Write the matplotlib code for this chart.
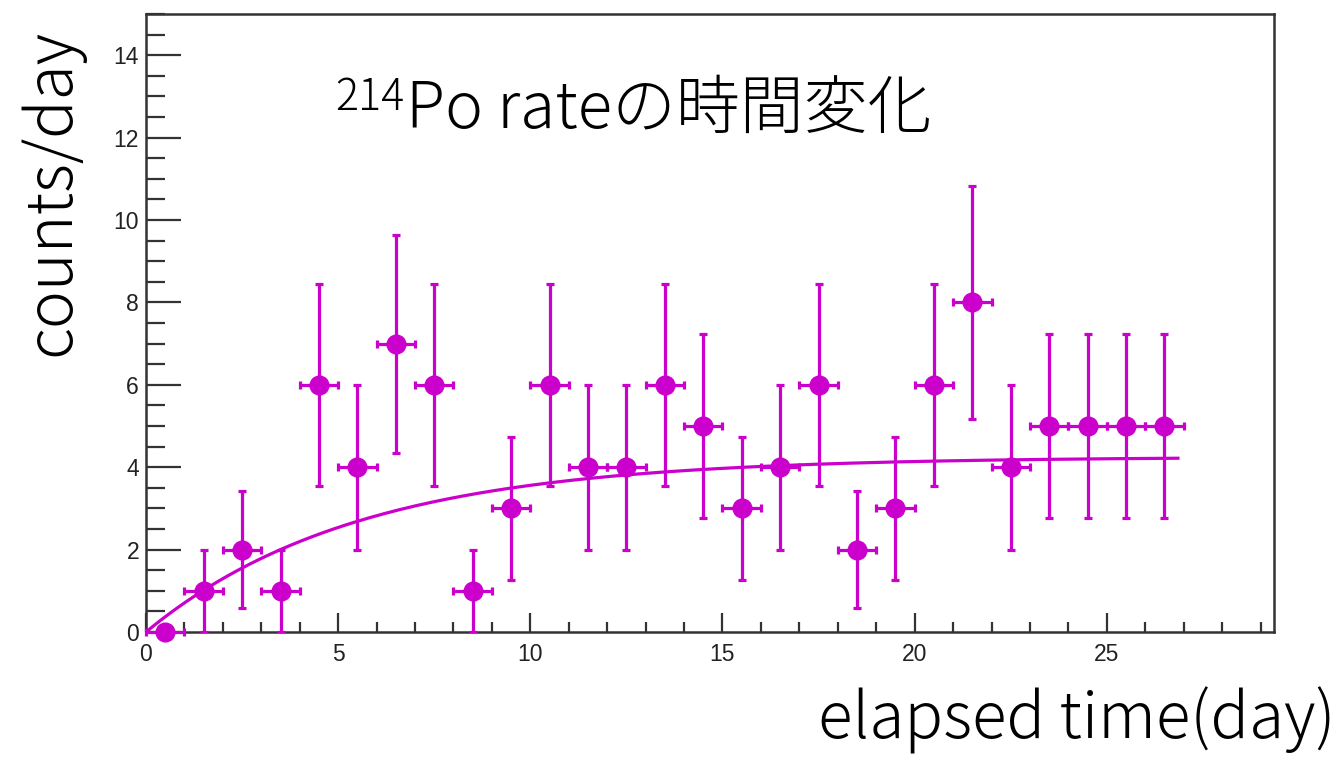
import numpy as np
import matplotlib.pyplot as plt
from matplotlib.ticker import MultipleLocator

plt.rcParams['font.family'] = ['Noto Sans CJK JP', 'DejaVu Sans']

# binned Po-214 counts per day
day = [0.5, 1.5, 2.5, 3.5, 4.5, 5.5, 6.5, 7.5, 8.5, 9.5, 10.5, 11.5, 12.5, 13.5,
       14.5, 15.5, 16.5, 17.5, 18.5, 19.5, 20.5, 21.5, 22.5, 23.5, 24.5, 25.5, 26.5]
counts = [0, 1, 2, 1, 6, 4, 7, 6, 1, 3, 6, 4, 4, 6,
          5, 3, 4, 6, 2, 3, 6, 8, 4, 5, 5, 5, 5]
bin_half = 0.5

# fit result: A*(1-exp(-t/tau))
fit_A = 4.25
fit_tau = 5.5
fit_end = 26.85

col = '#cc00cc'

fig = plt.figure(figsize=(13.4, 7.58), dpi=100)
ax = fig.add_axes([146/1340, 1-632/758, (1274-146)/1340, (632-14)/758])

x = np.array(day)
y = np.array(counts, dtype=float)
yerr = np.sqrt(y)
m = y > 0
ax.errorbar(x[m], y[m], xerr=bin_half, yerr=yerr[m], fmt='o', color=col,
            ms=13.5, elinewidth=2.3, capsize=3, capthick=2.3, zorder=3)
ax.errorbar(x[~m], y[~m], xerr=bin_half, fmt='o', color=col,
            ms=13.5, elinewidth=2.3, capsize=3, capthick=2.3, zorder=3, clip_on=False)

t = np.linspace(0, fit_end, 200)
ax.plot(t, fit_A*(1-np.exp(-t/fit_tau)), color=col, lw=2.3, zorder=2)

ax.set_xlim(0, 29.35)
ax.set_ylim(0, 15)
ax.xaxis.set_major_locator(MultipleLocator(5))
ax.xaxis.set_minor_locator(MultipleLocator(1))
ax.yaxis.set_major_locator(MultipleLocator(2))
ax.yaxis.set_minor_locator(MultipleLocator(0.5))
ax.tick_params(which='both', direction='in', top=False, right=False, width=1.6,
               labelsize=16.5, color='#333333')
ax.tick_params(axis='x', which='major', length=14, pad=8)
ax.tick_params(axis='x', which='minor', length=7)
ax.tick_params(axis='y', which='major', length=25, pad=5)
ax.tick_params(axis='y', which='minor', length=14)
for lab in ax.get_xticklabels() + ax.get_yticklabels():
    lab.set_family(['Liberation Sans', 'DejaVu Sans'])
    lab.set_color('#222222')
for s in ax.spines.values():
    s.set_linewidth(1.8)
    s.set_color('#333333')

# title: superscript mass number drawn as its own text
fig.text(404/1340, 1-110/758, '214', fontsize=31, weight='light',
         ha='right', va='baseline')
fig.text(406/1340, 1-128/758, 'Po rateの時間変化', fontsize=46,
         weight='light', ha='left', va='baseline')
fig.text(52/1340, 1-193/758, 'counts/day', fontsize=46, weight='light',
         rotation=90, ha='center', va='center')
fig.text(1335/1340, 1-739/758, 'elapsed time(day)', fontsize=46,
         weight='light', ha='right', va='baseline')

fig.savefig('out.png', dpi=100)
